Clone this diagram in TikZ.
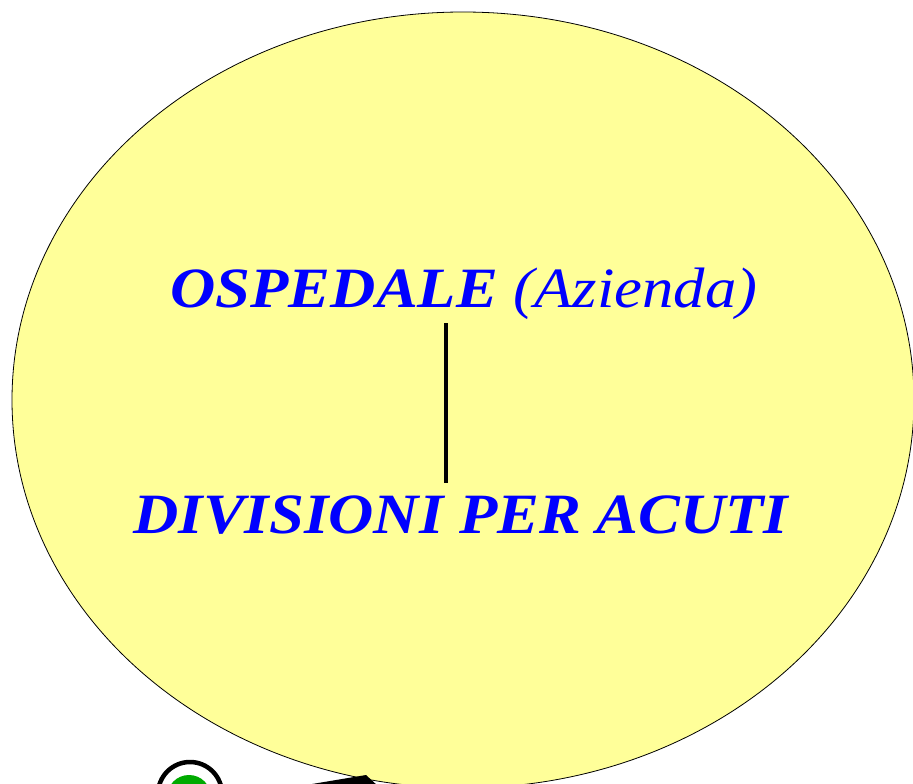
\documentclass[tikz,border=0pt]{standalone}
\usepackage{fontspec}
\setmainfont{Liberation Serif}
\newfontfamily\titlefont[FakeStretch=1.1]{Liberation Serif}
\usepackage{xcolor}
\usetikzlibrary{shapes.geometric, positioning}

\definecolor{bubble}{RGB}{255,255,153}
\definecolor{titleblue}{RGB}{0,0,255}
\definecolor{dotgreen}{RGB}{0,170,0}

\begin{document}
\begin{tikzpicture}[
    x=1pt, y=-1pt,
    bubble/.style={ellipse, draw=black, line width=0.8pt, fill=bubble, minimum width=902pt, minimum height=776pt, inner sep=0pt},
    title/.style={font=\titlefont\fontsize{57}{60}\selectfont\bfseries\itshape, text=titleblue, inner sep=0pt}
]

% area della figura
\useasboundingbox (0,0) rectangle (913,784);
\clip (0,0) rectangle (913,784);

% ellisse
\node[bubble] (osp) at (463,400) {};

% testi
\node[title, anchor=base] (azienda) at (464,307) {OSPEDALE {\mdseries(Azienda)}};
\node[title, anchor=base] (divisioni) at (461,533) {DIVISIONI PER ACUTI};

% collegamento
\coordinate (top) at (446,323);
\coordinate (bot) at (446,483);
\draw[line width=4pt] (top) -- (bot);

% pallino verde e cuneo in basso
\node[circle, draw=black, line width=4.5pt, fill=white, minimum size=64pt, inner sep=0pt] (dot) at (190,794) {};
\node[circle, fill=dotgreen, minimum size=44pt, inner sep=0pt] (dotin) at (189,797) {};
\coordinate (w1) at (300,786);
\coordinate (w2) at (366,775);
\coordinate (w3) at (378,786);
\fill[black] (w1) -- (w2) -- (w3) -- cycle;

\end{tikzpicture}
\end{document}
